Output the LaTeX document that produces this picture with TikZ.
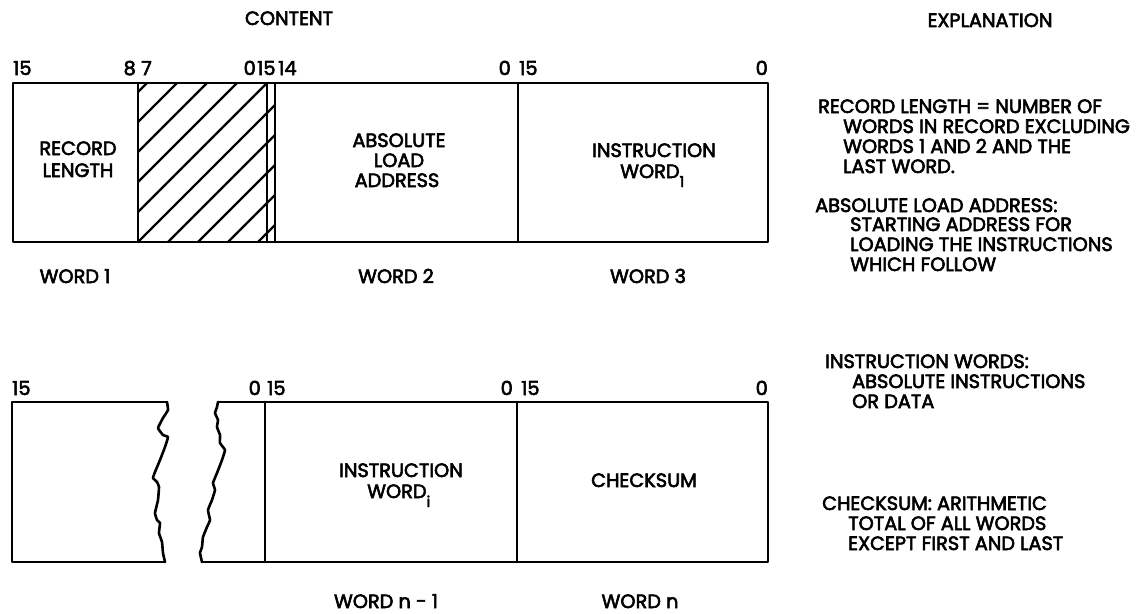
\documentclass[tikz,border=0pt]{standalone}
\usepackage{fontspec}
\setmainfont{Poppins}[FakeBold=3]
\begin{document}
\begin{tikzpicture}[x=1pt,y=-1pt,
  lbl/.style={font=\fontsize{19.3}{20}\selectfont, inner sep=0pt},
  lw/.style={lbl, anchor=base west},
  le/.style={lbl, anchor=base east},
  lc/.style={lbl, anchor=base},
  boxline/.style={line width=2.6pt, line join=round, line cap=round},
  hatch/.style={line width=2.2pt},
  jag/.style={line width=2.6pt, line join=round, line cap=round}]
\useasboundingbox (0,0) rectangle (1145,613);

% headings
\node[lc] (hcontent) at (289,25) {CONTENT};
\node[lc] (hexpl) at (990,27) {EXPLANATION};

% ---------- top record ----------
\begin{scope}
  \clip (138,83) rectangle (275,242);
  \foreach \c in {200,230,...,560}
    \draw[hatch] ({\c-83},83) -- ({\c-242},242);
\end{scope}
\draw[boxline] (13,83) rectangle (768,242);
\draw[boxline] (138,83) -- (138,242);
\draw[boxline] (267,83) -- (267,242);
\draw[boxline] (275,83) -- (275,242);
\draw[boxline] (518,83) -- (518,242);

% bit numbers top
\node[lw] (t15a) at (13,75) {15};
\node[le] (t8) at (136,75) {8};
\node[lw] (t7) at (141,75) {7};
\node[le] (t0a) at (256,75) {0};
\node[lw] (t15b) at (257,75) {15};
\node[lw] (t14) at (278,75) {14};
\node[le] (t0b) at (511,75) {0};
\node[lw] (t15c) at (519,75) {15};
\node[le] (t0c) at (768,75) {0};

% field labels top
\node[lc] (rl1) at (78,155) {RECORD};
\node[lc] (rl2) at (78,177) {LENGTH};
\node[lc] (al1) at (399,147) {ABSOLUTE};
\node[lc] (al2) at (399,167) {LOAD};
\node[lc] (al3) at (397,187) {ADDRESS};
\node[lc] (iw1) at (654,157) {INSTRUCTION};
\node[lw] (iw2) at (620,178) {WORD\raisebox{-9pt}{\fontsize{15}{15}\selectfont 1}};

\node[lc] (w1) at (75,283) {WORD 1};
\node[lc] (w2) at (396,283) {WORD 2};
\node[lc] (w3) at (648,283) {WORD 3};

% ---------- bottom record ----------
\draw[boxline] (167,402) -- (12,402) -- (12,562) -- (165,562);
\draw[jag] plot[smooth, tension=0.2] coordinates {(167,402) (168,410) (163,418) (158,428) (163,435) (168,437) (165,447) (160,460) (155,472) (153,478) (157,482) (159,487) (158,500) (155,513) (157,520) (160,523) (159,533) (162,542) (163,553) (165,562)};
\draw[boxline] (218,402) -- (768,402) -- (768,562) -- (202,562);
\draw[jag] plot[smooth, tension=0.2] coordinates {(218,402) (217,407) (215,413) (218,420) (217,427) (220,435) (220,443) (225,450) (222,460) (217,473) (213,483) (215,490) (212,500) (208,510) (210,520) (207,527) (203,537) (202,547) (200,553) (202,562)};
\draw[boxline] (265,402) -- (265,562);
\draw[boxline] (517,402) -- (517,562);

\node[lw] (b15a) at (12,395) {15};
\node[le] (b0a) at (261,395) {0};
\node[lw] (b15b) at (267,395) {15};
\node[le] (b0b) at (513,395) {0};
\node[lw] (b15c) at (521,395) {15};
\node[le] (b0c) at (768,395) {0};

\node[lc] (ii1) at (401,477) {INSTRUCTION};
\node[lw] (ii2) at (367,498) {WORD\raisebox{-9pt}{\fontsize{15}{15}\selectfont i}};
\node[lc] (cs) at (644,487) {CHECKSUM};

\node[lc] (wn1) at (386,608) {WORD n - 1};
\node[lc] (wn) at (640,608) {WORD n};

% ---------- explanation ----------
\node[lw] (e1) at (818,113) {RECORD LENGTH = NUMBER OF};
\node[lw] (e2) at (843,133) {WORDS IN RECORD EXCLUDING};
\node[lw] (e3) at (843,153) {WORDS 1 AND 2 AND THE};
\node[lw] (e4) at (843,173) {LAST WORD.};
\node[lw] (e5) at (815,212) {ABSOLUTE LOAD ADDRESS:};
\node[lw] (e6) at (850,231) {STARTING ADDRESS FOR};
\node[lw] (e7) at (850,251) {LOADING THE INSTRUCTIONS};
\node[lw] (e8) at (850,271) {WHICH FOLLOW};
\node[lw] (e9) at (825,368) {INSTRUCTION WORDS:};
\node[lw] (e10) at (852,388) {ABSOLUTE INSTRUCTIONS};
\node[lw] (e11) at (852,408) {OR DATA};
\node[lw] (e12) at (822,510) {CHECKSUM: ARITHMETIC};
\node[lw] (e13) at (848,530) {TOTAL OF ALL WORDS};
\node[lw] (e14) at (848,550) {EXCEPT FIRST AND LAST};
\end{tikzpicture}
\end{document}
